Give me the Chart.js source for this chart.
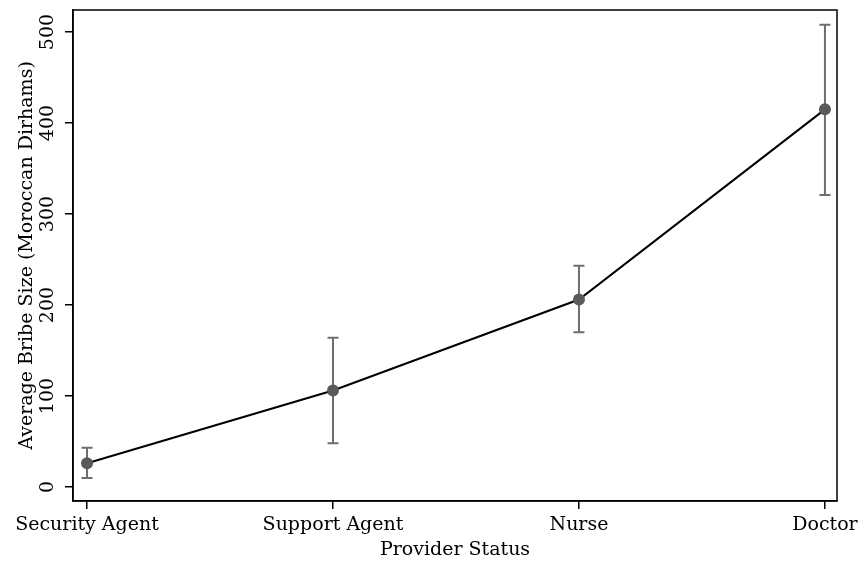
<!DOCTYPE html>
<html>
<head>
<meta charset="utf-8">
<script src="https://cdn.jsdelivr.net/npm/chart.js@4"></script>
<style>
  html, body { margin: 0; padding: 0; background: #fff; }
  #wrap { width: 860px; height: 562px; }
</style>
</head>
<body>
<div id="wrap"><canvas id="c" width="860" height="562"></canvas></div>
<script>
const categories = ['Security Agent', 'Support Agent', 'Nurse', 'Doctor'];
const meanBribe = [26, 106, 206, 415];
const ciLow = [10, 48, 170, 321];
const ciHigh = [43, 164, 243, 508];
const yTicks = [0, 100, 200, 300, 400, 500];
const yTitle = 'Average Bribe Size (Moroccan Dirhams)';
const xTitle = 'Provider Status';

const FONT = '19px "DejaVu Serif"';

// caps + whiskers for the confidence intervals, drawn under the line
const errorBars = {
  id: 'errorBars',
  beforeDatasetsDraw(chart) {
    const { ctx, scales: { x, y } } = chart;
    ctx.save();
    ctx.strokeStyle = '#6e6e6e';
    ctx.lineWidth = 2;
    categories.forEach((_, i) => {
      const px = x.getPixelForValue(i);
      const lo = y.getPixelForValue(ciLow[i]);
      const hi = y.getPixelForValue(ciHigh[i]);
      ctx.beginPath();
      ctx.moveTo(px, lo); ctx.lineTo(px, hi);
      ctx.moveTo(px - 5.5, lo); ctx.lineTo(px + 5.5, lo);
      ctx.moveTo(px - 5.5, hi); ctx.lineTo(px + 5.5, hi);
      ctx.stroke();
    });
    ctx.restore();
  },
};

// frame on all four sides plus the serif axis texts
const frameAndText = {
  id: 'frameAndText',
  afterDraw(chart) {
    const { ctx, chartArea: a, scales: { x, y } } = chart;
    ctx.save();
    ctx.strokeStyle = '#000';
    ctx.lineWidth = 1.5;
    ctx.strokeRect(a.left, a.top, a.right - a.left, a.bottom - a.top);

    ctx.fillStyle = '#000';
    ctx.font = FONT;
    ctx.textAlign = 'center';
    ctx.textBaseline = 'alphabetic';
    categories.forEach((c, i) => ctx.fillText(c, x.getPixelForValue(i), 530));
    ctx.fillText(xTitle, (a.left + a.right) / 2, 555);

    yTicks.forEach(v => {
      ctx.save();
      ctx.translate(53, y.getPixelForValue(v));
      ctx.rotate(-Math.PI / 2);
      ctx.fillText(String(v), 0, 0);
      ctx.restore();
    });
    ctx.translate(32, (a.top + a.bottom) / 2);
    ctx.rotate(-Math.PI / 2);
    ctx.fillText(yTitle, 0, 0);
    ctx.restore();
  },
};

new Chart(document.getElementById('c'), {
  type: 'line',
  data: {
    datasets: [{
      data: meanBribe.map((v, i) => ({ x: i, y: v })),
      borderColor: '#000',
      borderWidth: 2,
      pointRadius: 6,
      pointBorderWidth: 0,
      pointBackgroundColor: '#5a5a5a',
      tension: 0,
    }],
  },
  options: {
    responsive: false,
    animation: false,
    layout: { padding: { top: 10, right: 23, left: 0, bottom: 0 } },
    plugins: { legend: { display: false }, tooltip: { enabled: false } },
    scales: {
      x: {
        type: 'linear',
        min: -0.057,
        max: 3.049,
        afterBuildTicks: s => { s.ticks = categories.map((_, i) => ({ value: i })); },
        afterFit: s => { s.height = 61; },
        ticks: { display: false },
        grid: { drawOnChartArea: false, drawTicks: true, tickLength: 8, color: '#000', lineWidth: 1.5 },
        border: { display: true, color: '#000', width: 1.5 },
      },
      y: {
        min: -15.4,
        max: 524.2,
        afterBuildTicks: s => { s.ticks = yTicks.map(v => ({ value: v })); },
        afterFit: s => { s.width = 73; },
        ticks: { display: false },
        grid: { drawOnChartArea: false, drawTicks: true, tickLength: 8, color: '#000', lineWidth: 1.5 },
        border: { display: true, color: '#000', width: 1.5 },
      },
    },
  },
  plugins: [errorBars, frameAndText],
});
</script>
</body>
</html>
